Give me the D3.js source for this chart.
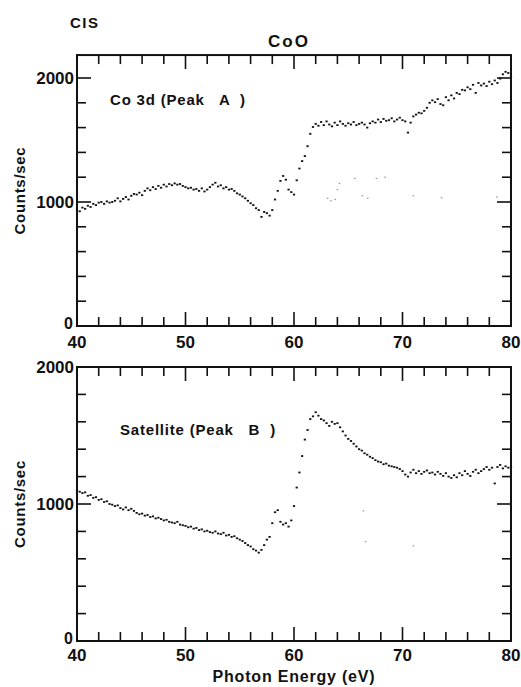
<!DOCTYPE html>
<html><head><meta charset="utf-8">
<script src="https://cdn.jsdelivr.net/npm/d3@7"></script>
<style>
html,body{margin:0;padding:0;background:#fff;}
text{font-family:"Liberation Sans",Arial,Helvetica,sans-serif;fill:#111;}
</style></head>
<body><svg id="c" width="521" height="687"></svg>
<script>
// ---------- DATA ----------
const energy = [40,40.25,40.5,40.75,41,41.25,41.5,41.75,42,42.25,42.5,42.75,43,43.25,43.5,43.75,44,44.25,44.5,44.75,
45,45.25,45.5,45.75,46,46.25,46.5,46.75,47,47.25,47.5,47.75,48,48.25,48.5,48.75,49,49.25,49.5,49.75,
50,50.25,50.5,50.75,51,51.25,51.5,51.75,52,52.25,52.5,52.75,53,53.25,53.5,53.75,54,54.25,54.5,54.75,
55,55.25,55.5,55.75,56,56.25,56.5,56.75,57,57.25,57.5,57.75,58,58.25,58.5,58.75,59,59.25,59.5,59.75,
60,60.25,60.5,60.75,61,61.25,61.5,61.75,62,62.25,62.5,62.75,63,63.25,63.5,63.75,64,64.25,64.5,64.75,
65,65.25,65.5,65.75,66,66.25,66.5,66.75,67,67.25,67.5,67.75,68,68.25,68.5,68.75,69,69.25,69.5,69.75,
70,70.25,70.5,70.75,71,71.25,71.5,71.75,72,72.25,72.5,72.75,73,73.25,73.5,73.75,74,74.25,74.5,74.75,
75,75.25,75.5,75.75,76,76.25,76.5,76.75,77,77.25,77.5,77.75,78,78.25,78.5,78.75,79,79.25,79.5,79.75,80];

const peakA = [940,925,955,945,970,960,985,975,995,1000,985,1005,995,1000,1010,1030,1005,1025,1040,1020,
1050,1065,1060,1075,1055,1090,1110,1095,1120,1105,1130,1115,1140,1125,1145,1135,1150,1140,1145,1130,
1120,1110,1115,1100,1105,1090,1110,1085,1100,1120,1140,1155,1125,1135,1110,1120,1100,1105,1090,1070,
1060,1045,1030,1010,990,975,950,935,880,920,910,890,935,1020,1090,1170,1210,1180,1100,1080,
1060,1175,1270,1330,1370,1450,1550,1605,1630,1615,1645,1620,1650,1625,1610,1640,1620,1650,1630,1615,
1635,1625,1645,1620,1630,1640,1625,1600,1635,1650,1640,1665,1645,1670,1655,1660,1675,1650,1665,1680,
1660,1650,1560,1640,1690,1705,1720,1715,1735,1760,1800,1820,1805,1830,1790,1780,1845,1820,1860,1835,
1880,1870,1905,1900,1925,1910,1945,1880,1960,1940,1955,1935,1970,1950,1980,1960,1995,2030,2050,2040,2010];

const peakB = [1100,1090,1080,1085,1060,1065,1045,1050,1030,1035,1015,1020,1000,995,985,990,970,960,975,955,
965,950,935,925,930,915,920,905,910,895,900,890,880,885,870,865,860,870,850,845,
840,830,835,820,825,810,815,800,805,795,790,800,785,780,790,770,775,760,765,750,
740,730,715,700,690,670,660,645,665,700,740,760,860,940,955,870,850,860,835,880,
985,1120,1230,1350,1470,1540,1620,1640,1670,1645,1620,1610,1590,1570,1600,1585,1590,1560,1530,1500,
1475,1460,1440,1420,1400,1390,1370,1360,1345,1335,1320,1310,1305,1290,1295,1280,1275,1270,1265,1255,
1240,1215,1200,1230,1250,1225,1240,1220,1235,1245,1225,1230,1215,1235,1220,1205,1225,1200,1190,1210,
1195,1225,1210,1240,1220,1205,1235,1250,1225,1240,1255,1270,1250,1265,1150,1270,1285,1260,1275,1265,1270];

// faint stray specks on the original scan
const ghostA_E = [63.1,63.4,63.8,64.2,64.0,65.6,66.3,66.8,67.6,68.4,71.0,73.6,78.7];
const ghostA_V = [1030,1010,1020,1150,1100,1190,1050,1030,1190,1200,1050,1035,1040];
const ghostB_E = [66.4,66.6,71.0];
const ghostB_V = [950,725,695];

const xTicks = [40,50,60,70,80];
const yTicks = [0,1000,2000];
const titleTop = "CIS";
const titleMain = "CoO";
const labelA = "Co 3d (Peak   A  )";
const labelB = "Satellite (Peak   B  )";
const yLabel = "Counts/sec";
const xLabel = "Photon Energy (eV)";

// ---------- DRAW ----------
const svg = d3.select("#c");
const x = d3.scaleLinear().domain([40,80]).range([77,511]);

function panel(yScale, yTop, vals, gE, gV, label, labelPos, labelY, xLabY){
  const g = svg.append("g");
  const [x0,x1] = x.range();
  const yb = yScale(0), yt = yScale(yTop);
  g.append("rect").attr("x",x0).attr("y",yt).attr("width",x1-x0).attr("height",yb-yt)
    .attr("fill","none").attr("stroke","#111").attr("stroke-width",2);
  const xt = d3.range(40,80.001,2).filter(v=>v>40&&v<80);
  xt.forEach(v=>{
    const L = v%10===0 ? 14 : 9;
    g.append("line").attr("x1",x(v)).attr("x2",x(v)).attr("y1",yb).attr("y2",yb-L).attr("stroke","#111").attr("stroke-width",1.6);
    g.append("line").attr("x1",x(v)).attr("x2",x(v)).attr("y1",yt).attr("y2",yt+L).attr("stroke","#111").attr("stroke-width",1.6);
  });
  const ytk = d3.range(200,yTop,200).filter(v=>v<yTop-1);
  ytk.forEach(v=>{
    const L = v%1000===0 ? 14 : 9;
    g.append("line").attr("x1",x0).attr("x2",x0+L).attr("y1",yScale(v)).attr("y2",yScale(v)).attr("stroke","#111").attr("stroke-width",1.6);
    g.append("line").attr("x1",x1).attr("x2",x1-L).attr("y1",yScale(v)).attr("y2",yScale(v)).attr("stroke","#111").attr("stroke-width",1.6);
  });
  yTicks.forEach(v=>{
    g.append("text").attr("x",v===0 ? x0-4 : x0-3).attr("y",yScale(v)).attr("dy",v===0 ? "0.2em" : "0.36em")
      .attr("text-anchor","end").attr("font-size",v===0 ? 16 : 17).attr("font-weight","bold").text(v);
  });
  xTicks.forEach(v=>{
    g.append("text").attr("x",x(v)).attr("y",xLabY).attr("dy","0.36em")
      .attr("text-anchor","middle").attr("font-size",17).attr("font-weight","bold").text(v);
  });
  g.selectAll(".gh").data(gE.map((e,i)=>[e,gV[i]])).enter().append("rect")
    .attr("x",d=>x(d[0])-0.8).attr("y",d=>yScale(d[1])-0.6).attr("width",1.6).attr("height",1.2)
    .attr("fill","#999");
  g.selectAll(".pt").data(energy.map((e,i)=>[e,vals[i]])).enter().append("rect")
    .attr("x",d=>x(d[0])-1.1).attr("y",d=>yScale(d[1])-0.9).attr("width",2.2).attr("height",1.8)
    .attr("fill","#111");
  g.append("text").attr("x",labelPos).attr("y",labelY).attr("font-size",15).attr("font-weight","bold")
    .attr("letter-spacing",0.8).attr("xml:space","preserve").style("white-space","pre").text(label);
  const cy = (yb+yt)/2;
  g.append("text").attr("transform",`translate(25,${cy}) rotate(-90)`).attr("text-anchor","middle")
    .attr("font-size",15).attr("font-weight","bold").attr("letter-spacing",0.7).text(yLabel);
}

const yA = d3.scaleLinear().domain([0,2000]).range([326,78]);
const yB = d3.scaleLinear().domain([0,2000]).range([641,367]);
panel(yA, 2185, peakA, ghostA_E, ghostA_V, labelA, 110, 105, 342);
panel(yB, 2000, peakB, ghostB_E, ghostB_V, labelB, 120, 435, 655);

svg.append("text").attr("x",70).attr("y",28).attr("font-size",15).attr("font-weight","bold").attr("letter-spacing",1.5).text(titleTop);
svg.append("text").attr("x",289).attr("y",47).attr("text-anchor","middle").attr("font-size",17).attr("font-weight","bold").attr("letter-spacing",2).text(titleMain);
svg.append("text").attr("x",294).attr("y",682).attr("text-anchor","middle").attr("font-size",16).attr("font-weight","bold").attr("letter-spacing",0.8).text(xLabel);
</script></body></html>
